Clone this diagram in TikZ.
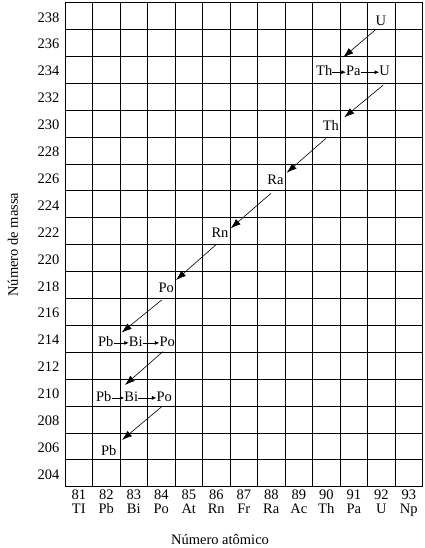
\documentclass[tikz,border=0pt]{standalone}
\usepackage{fontspec}
\setmainfont{Liberation Serif}
\usetikzlibrary{arrows.meta}
\begin{document}
\begin{tikzpicture}[x=1pt,y=-1pt,
  lbl/.style={inner sep=0pt, anchor=base, font=\fontsize{14.5}{16}\selectfont},
  gridline/.style={line width=0.9pt},
  decay/.style={line width=0.6pt, -{Latex[length=10pt,width=7pt]}},
  beta/.style={line width=0.6pt, -{Latex[length=4.5pt,width=4pt]}},
]
\useasboundingbox (0,0) rectangle (424,548);
% grid
\foreach \i in {0,...,13} \draw[gridline] ({65+27.5*\i},2.6) -- ({65+27.5*\i},486.8);
\foreach \j in {0,...,18} \draw[gridline] (65,{2.6+26.9*\j}) -- (422.5,{2.6+26.9*\j});
% row labels
\foreach \m [count=\j from 0] in {238,236,...,204}
  \node[lbl, anchor=base east] (m\m) at (59.5,{2.6+26.9*(\j+0.5)+6}) {\m};
% column labels
\foreach \z/\s [count=\i from 0] in {81/TI,82/Pb,83/Bi,84/Po,85/At,86/Rn,87/Fr,88/Ra,89/Ac,90/Th,91/Pa,92/U,93/Np} {
  \node[lbl] (z\z) at ({65+27.5*(\i+0.5)},499.5) {\z};
  \node[lbl] (s\z) at ({65+27.5*(\i+0.5)},513) {\s};
}
% axis titles
\node[lbl] (xt) at (220,544) {Número atômico};
\node[lbl, rotate=90, anchor=center] (yt) at (13,244.7) {Número de massa};
% elements
\node[lbl] (u238) at (380.8,26) {U};
\node[lbl] (th234) at (324.2,76) {Th};
\node[lbl] (pa234) at (353.3,76) {Pa};
\node[lbl] (u234) at (384.5,76) {U};
\node[lbl] (th230) at (330.8,130.5) {Th};
\node[lbl] (ra226) at (275.5,184) {Ra};
\node[lbl] (rn222) at (220,237.7) {Rn};
\node[lbl] (po218) at (166.2,292.7) {Po};
\node[lbl] (pb214) at (105.8,346.7) {Pb};
\node[lbl] (bi214) at (135.8,346.7) {Bi};
\node[lbl] (po214) at (167.2,346.7) {Po};
\node[lbl] (pb210) at (103.8,401.7) {Pb};
\node[lbl] (bi210) at (131.3,401.7) {Bi};
\node[lbl] (po210) at (164.2,401.7) {Po};
\node[lbl] (pb206) at (108.7,455) {Pb};
% beta decays
\draw[beta] ([yshift=1.5pt]th234.mid east) -- ([yshift=1.5pt]pa234.mid west);
\draw[beta] ([yshift=1.5pt]pa234.mid east) -- ([yshift=1.5pt]u234.mid west);
\draw[beta] ([yshift=1.5pt]pb214.mid east) -- ([yshift=1.5pt]bi214.mid west);
\draw[beta] ([yshift=1.5pt]bi214.mid east) -- ([yshift=1.5pt]po214.mid west);
\draw[beta] ([yshift=1.5pt]pb210.mid east) -- ([yshift=1.5pt]bi210.mid west);
\draw[beta] ([yshift=1.5pt]bi210.mid east) -- ([yshift=1.5pt]po210.mid west);
% alpha decays
\draw[decay] ([shift={(-4.8,3.3)}]u238.base) -- ([shift={(19.1,-18.7)}]th234.base);
\draw[decay] ([shift={(-1.2,9)}]u234.base) -- ([shift={(13.5,-13.2)}]th230.base);
\draw[decay] ([shift={(-4.8,7.8)}]th230.base) -- ([shift={(11.2,-11.3)}]ra226.base);
\draw[decay] ([shift={(-4.5,9.3)}]ra226.base) -- ([shift={(10.7,-9.4)}]rn222.base);
\draw[decay] ([shift={(-4.3,7.3)}]rn222.base) -- ([shift={(9.8,-12.7)}]po218.base);
\draw[decay] ([shift={(-4.5,7.3)}]po218.base) -- ([shift={(15.9,-14.2)}]pb214.base);
\draw[decay] ([shift={(-4.5,5)}]po214.base) -- ([shift={(21.2,-16.7)}]pb210.base);
\draw[decay] ([shift={(-2.5,5)}]po210.base) -- ([shift={(13.3,-15)}]pb206.base);
\end{tikzpicture}
\end{document}
